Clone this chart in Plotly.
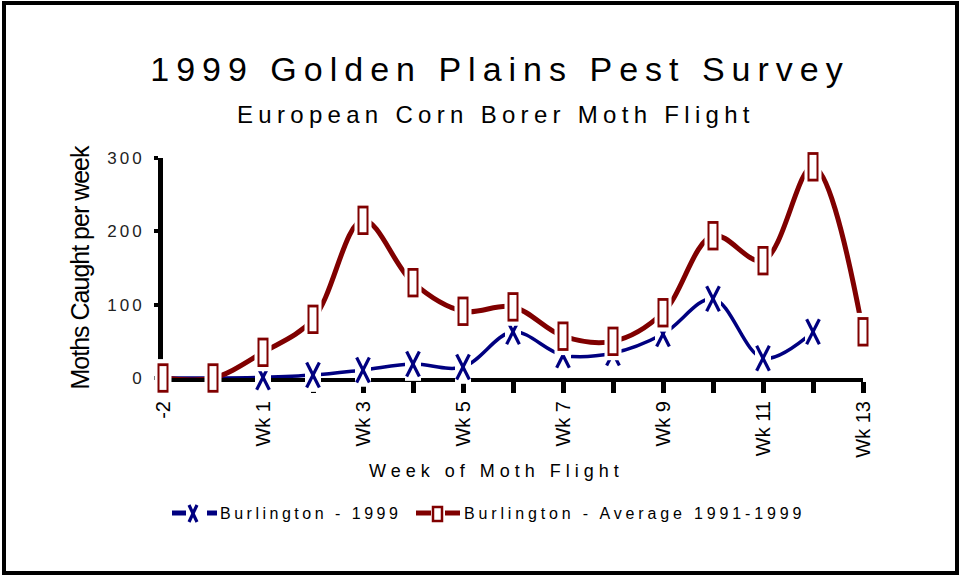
import plotly.graph_objects as go

# ---- data ----
weeks = ["-2", "-1", "Wk 1", "Wk 2", "Wk 3", "Wk 4", "Wk 5", "Wk 6", "Wk 7",
         "Wk 8", "Wk 9", "Wk 10", "Wk 11", "Wk 12", "Wk 13"]
tick_labels = ["-2", "", "Wk 1", "", "Wk 3", "", "Wk 5", "", "Wk 7",
               "", "Wk 9", "", "Wk 11", "", "Wk 13"]
burlington_1999 = [0, 0, 1, 4, 11, 19, 15, 63, 31, 34, 60, 108, 27, 63]
burlington_avg = [0, 0, 35, 80, 215, 130, 91, 97, 57, 50, 89, 194, 160, 288, 63]
y_ticks = [0, 100, 200, 300]

series1_name = "Burlington - 1999"
series2_name = "Burlington - Average 1991-1999"
title_text = "1999 Golden Plains Pest Survey"
subtitle_text = "European Corn Borer Moth Flight"
x_title = "Week of Moth Flight"
y_title = "Moths Caught per week"

NAVY = "#000080"
MAROON = "#800000"
SANS = "Liberation Sans, Arial, sans-serif"

# plot area in pixels
L, R, T, B = 163, 863, 158, 378
W, H = 959, 575


def px_x(px):
    return (px - L) / (R - L)


def px_y(py):
    return (B - py) / (B - T)


def spaced(text, ls):
    return f'<span style="letter-spacing:{ls}px">{text}</span>'


x1 = weeks[:len(burlington_1999)]
x2 = weeks[:len(burlington_avg)]

fig = go.Figure()

# Series 1: line, white halo, X marker (two slanted strokes)
fig.add_trace(go.Scatter(x=x1, y=burlington_1999, mode="lines",
                         line=dict(color=NAVY, width=3.5, shape="spline", smoothing=1),
                         name=series1_name, showlegend=False, hoverinfo="skip"))
fig.add_trace(go.Scatter(x=x1, y=burlington_1999, mode="markers", cliponaxis=False,
                         marker=dict(symbol="line-ns", size=24,
                                     line=dict(color="white", width=16)),
                         showlegend=False, hoverinfo="skip"))
for ang in (27, -27):
    fig.add_trace(go.Scatter(x=x1, y=burlington_1999, mode="markers", cliponaxis=False,
                             marker=dict(symbol="line-ns", size=20, angle=ang,
                                         line=dict(color=NAVY, width=3.2)),
                             showlegend=False, name=series1_name))

# Series 2: line, halo, rectangle marker
fig.add_trace(go.Scatter(x=x2, y=burlington_avg, mode="lines",
                         line=dict(color=MAROON, width=5, shape="spline", smoothing=1),
                         name=series2_name, showlegend=False, hoverinfo="skip"))
fig.add_trace(go.Scatter(x=x2, y=burlington_avg, mode="markers", cliponaxis=False,
                         marker=dict(symbol="line-ns", size=27,
                                     line=dict(color="white", width=17)),
                         showlegend=False, hoverinfo="skip"))
fig.add_trace(go.Scatter(x=x2, y=burlington_avg, mode="markers", cliponaxis=False,
                         marker=dict(symbol="line-ns", size=21,
                                     line=dict(color=MAROON, width=11)),
                         showlegend=False, name=series2_name))
fig.add_trace(go.Scatter(x=x2, y=burlington_avg, mode="markers", cliponaxis=False,
                         marker=dict(symbol="line-ns", size=17,
                                     line=dict(color="white", width=7)),
                         showlegend=False, hoverinfo="skip"))

shapes = []
annotations = []

# outer border
shapes.append(dict(type="rect", xref="paper", yref="paper",
                   x0=px_x(4), x1=px_x(957), y0=px_y(573), y1=px_y(3),
                   line=dict(color="black", width=4), fillcolor="rgba(0,0,0,0)",
                   layer="above"))

# subtitle
annotations.append(dict(text=spaced(subtitle_text, 5.3), xref="paper", yref="paper",
                        x=px_x(496), y=px_y(114), xanchor="center", yanchor="middle",
                        showarrow=False, font=dict(family=SANS, size=24, color="black")))

# x-axis title
annotations.append(dict(text=spaced(x_title, 5.0), xref="paper", yref="paper",
                        x=px_x(496), y=px_y(471), xanchor="center", yanchor="middle",
                        showarrow=False, font=dict(family=SANS, size=18, color="black")))

# manual legend
ly = 513
shapes += [
    dict(type="line", xref="paper", yref="paper", x0=px_x(172), x1=px_x(186),
         y0=px_y(ly), y1=px_y(ly), line=dict(color=NAVY, width=5)),
    dict(type="line", xref="paper", yref="paper", x0=px_x(189), x1=px_x(197),
         y0=px_y(522), y1=px_y(505), line=dict(color=NAVY, width=3.2)),
    dict(type="line", xref="paper", yref="paper", x0=px_x(189), x1=px_x(197),
         y0=px_y(505), y1=px_y(522), line=dict(color=NAVY, width=3.2)),
    dict(type="line", xref="paper", yref="paper", x0=px_x(207), x1=px_x(217),
         y0=px_y(ly), y1=px_y(ly), line=dict(color=NAVY, width=5)),
    dict(type="line", xref="paper", yref="paper", x0=px_x(416), x1=px_x(431),
         y0=px_y(ly), y1=px_y(ly), line=dict(color=MAROON, width=5)),
    dict(type="rect", xref="paper", yref="paper", x0=px_x(433), x1=px_x(442),
         y0=px_y(521), y1=px_y(507), line=dict(color=MAROON, width=2.5),
         fillcolor="white"),
    dict(type="line", xref="paper", yref="paper", x0=px_x(445), x1=px_x(460),
         y0=px_y(ly), y1=px_y(ly), line=dict(color=MAROON, width=5)),
]
annotations += [
    dict(text=spaced(series1_name, 3.5), xref="paper", yref="paper",
         x=px_x(218), y=px_y(ly), xanchor="left", yanchor="middle", showarrow=False,
         font=dict(family=SANS, size=16, color="black")),
    dict(text=spaced(series2_name, 3.85), xref="paper", yref="paper",
         x=px_x(462), y=px_y(ly), xanchor="left", yanchor="middle", showarrow=False,
         font=dict(family=SANS, size=16, color="black")),
]

fig.update_layout(
    width=W, height=H,
    margin=dict(l=L, r=W - R, t=T, b=H - B, autoexpand=False),
    paper_bgcolor="white", plot_bgcolor="white",
    showlegend=False,
    title=dict(text=spaced(title_text, 7), x=500 / W, xanchor="center",
               xref="container",
               y=1 - 69 / H, yanchor="middle", yref="container",
               font=dict(family=SANS, size=34, color="black")),
    xaxis=dict(type="category", categoryorder="array", categoryarray=weeks,
               range=[0, len(weeks) - 1],
               tickmode="array", tickvals=weeks, ticktext=tick_labels,
               tickangle=-90, tickfont=dict(family=SANS, size=20, color="black"),
               showline=True, linecolor="black", linewidth=4,
               ticks="outside", ticklen=11, tickwidth=5, tickcolor="black",
               showgrid=False, zeroline=False, layer="below traces"),
    yaxis=dict(range=[0, 300], tickmode="array", tickvals=y_ticks,
               ticktext=[spaced(str(v), 3) for v in y_ticks],
               tickfont=dict(family=SANS, size=17, color="#222222"),
               ticklabelstandoff=6,
               showline=True, linecolor="black", linewidth=5,
               ticks="outside", ticklen=4, tickwidth=4, tickcolor="black",
               showgrid=False, zeroline=False, layer="below traces",
               title=dict(text=spaced(y_title, -1), standoff=12,
                          font=dict(family=SANS, size=25, color="black"))),
    shapes=shapes, annotations=annotations,
)

fig.write_html("out.html", config={"displayModeBar": False},
               post_script="document.body.style.margin='0';document.body.style.overflow='hidden';")
